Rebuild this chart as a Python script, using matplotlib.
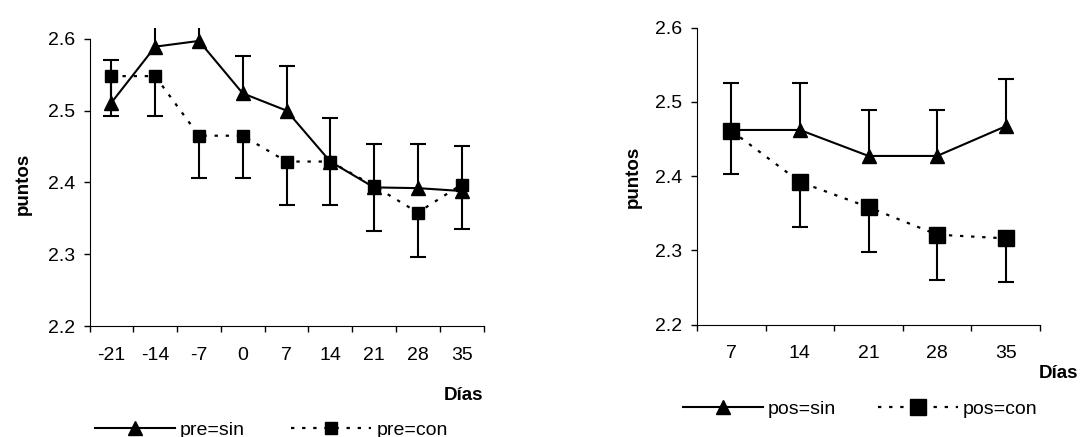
import matplotlib.pyplot as plt
import numpy as np

plt.rcParams['font.family'] = ['Liberation Sans', 'DejaVu Sans']
plt.rcParams['font.size'] = 14

# datos
dias_pre = ['-21', '-14', '-7', '0', '7', '14', '21', '28', '35']
pre_sin = [2.511, 2.589, 2.597, 2.524, 2.500, 2.429, 2.393, 2.392, 2.388]
pre_sin_err = [0.059, 0.060, 0.060, 0.052, 0.062, 0.060, 0.060, 0.061, 0.063]
pre_con = [2.548, 2.548, 2.465, 2.465, 2.429, 2.429, 2.395, 2.358, 2.397]
pre_con_err = [0.056, 0.056, 0.059, 0.059, 0.061, 0.061, 0.063, 0.062, 0.062]

dias_pos = ['7', '14', '21', '28', '35']
pos_sin = [2.462, 2.462, 2.427, 2.427, 2.467]
pos_sin_err = [0.063, 0.063, 0.062, 0.062, 0.063]
pos_con = [2.461, 2.392, 2.358, 2.321, 2.316]
pos_con_err = [0.058, 0.061, 0.061, 0.061, 0.059]

yticks = [2.2, 2.3, 2.4, 2.5, 2.6]

W, H = 1081, 437


def Panel(ax, dias, sin, sin_err, con, con_err, tri_ms, sq_ms, cap, ytop, lab_sin, lab_con):
    x = np.arange(len(dias))
    sin = np.array(sin)
    con = np.array(con)
    # barras de error: hacia arriba para "sin", hacia abajo para "con"
    ax.vlines(x, sin, sin + np.array(sin_err), color='black', lw=1.5)
    ax.plot(x, sin + np.array(sin_err), ls='none', marker='_', ms=cap, mew=1.5, color='black')
    ax.vlines(x, con - np.array(con_err), con, color='black', lw=1.5)
    ax.plot(x, con - np.array(con_err), ls='none', marker='_', ms=cap, mew=1.5, color='black')
    ax.plot(x, sin, color='black', lw=1.5, marker='^', ms=tri_ms, label=lab_sin)
    ax.plot(x, con, color='black', lw=1.6, ls=(0, (1.5, 3.5)), marker='s', ms=sq_ms, label=lab_con)

    ax.set_xlim(-0.5, len(dias) - 0.5)
    ax.set_ylim(2.2, ytop)
    ax.set_xticks(x, dias)
    ax.set_xticks(np.arange(len(dias) + 1) - 0.5, minor=True)
    ax.tick_params(axis='x', which='major', length=0, pad=15)
    ax.tick_params(axis='x', which='minor', length=4.5, width=1)
    ax.set_yticks(yticks)
    ax.tick_params(axis='y', length=4.5, width=1, pad=6)
    ax.spines['top'].set_visible(False)
    ax.spines['right'].set_visible(False)
    ax.spines['left'].set_bounds(2.2, 2.6)


fig = plt.figure(figsize=(W / 100, H / 100), dpi=100)

ax1 = fig.add_axes([89.5 / W, (H - 326) / H, 394 / W, 298 / H])
Panel(ax1, dias_pre, pre_sin, pre_sin_err, pre_con, pre_con_err, 9.5, 8, 11, 2.615, 'pre=sin', 'pre=con')
ax1.legend(loc='center left', bbox_to_anchor=(95 / W, (H - 430) / H), bbox_transform=fig.transFigure,
           ncol=2, frameon=False, handlelength=4.1, handletextpad=0.26, columnspacing=2.4,
           borderpad=0, borderaxespad=0, numpoints=1)
fig.text(483 / W, (H - 395) / H, 'Días', ha='right', va='center', fontweight='bold', fontsize=13.5)
fig.text(23.7 / W, (H - 184) / H, 'puntos', rotation=90, ha='center', va='center', fontweight='bold',
         fontsize=13.5)

ax2 = fig.add_axes([697 / W, (H - 324.5) / H, 343 / W, 297 / H])
Panel(ax2, dias_pos, pos_sin, pos_sin_err, pos_con, pos_con_err, 9.5, 12, 12, 2.6, 'pos=sin', 'pos=con')
ax2.legend(loc='center left', bbox_to_anchor=(683 / W, (H - 409) / H), bbox_transform=fig.transFigure,
           ncol=2, frameon=False, handlelength=4.1, handletextpad=0.26, columnspacing=2.15,
           borderpad=0, borderaxespad=0, numpoints=1)
fig.text(1078 / W, (H - 373) / H, 'Días', ha='right', va='center', fontweight='bold', fontsize=13.5)
fig.text(633 / W, (H - 177) / H, 'puntos', rotation=90, ha='center', va='center', fontweight='bold',
         fontsize=13.5)

fig.savefig('out.png', dpi=100)
